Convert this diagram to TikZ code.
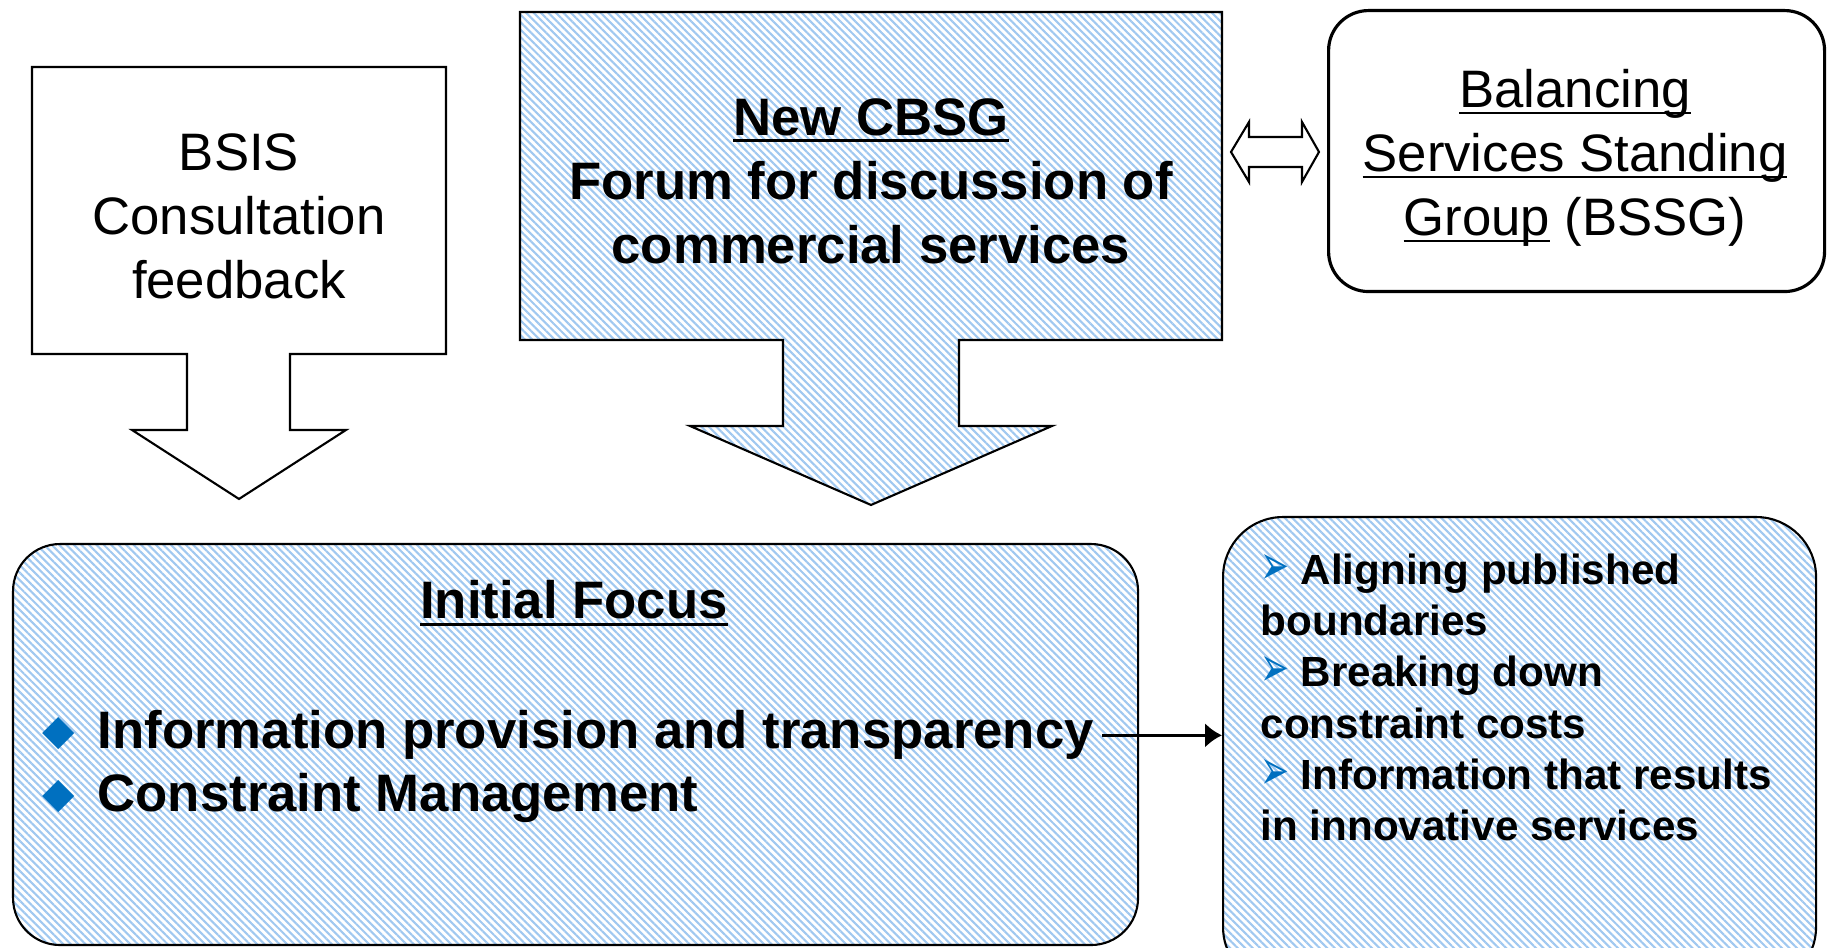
\documentclass[tikz,border=0pt]{standalone}
\usepackage{fontspec}
\usepackage{graphicx}
\setmainfont{Liberation Sans}
\newfontfamily\symfont{DejaVu Sans}
\usetikzlibrary{arrows,arrows.meta,shapes,positioning,patterns.meta}
\definecolor{hatchblue}{RGB}{160,200,240}
\definecolor{bulletblue}{RGB}{0,112,192}
\newsavebox\ulbox
\newcommand{\ulined}[1]{\sbox\ulbox{#1}\rlap{\rule[-0.13em]{\wd\ulbox}{0.05em}}\usebox\ulbox}
\newcommand{\diabullet}{\makebox[0.47cm][l]{\hspace*{-0.08cm}\raisebox{0.04cm}{\symfont\fontsize{12}{12}\selectfont\textcolor{bulletblue}{◆}}}}
\newcommand{\arrbullet}{\makebox[0.40cm][l]{\textcolor{bulletblue}{\resizebox{0.29cm}{0.30cm}{\symfont ➢}}}}

\begin{document}
\begin{tikzpicture}[
	outline/.style={draw=black, line width=0.6pt},
	hatched/.style={pattern={Lines[angle=-45,distance=1.5pt,line width=0.6pt]}, pattern color=hatchblue},
	plaintext/.style={font=\fontsize{15}{18.2}\selectfont, align=center, inner sep=0pt},
	boldtext/.style={font=\fontsize{15}{18.2}\selectfont\bfseries, align=center, inner sep=0pt},
	smalltext/.style={font=\fontsize{12}{14.6}\selectfont\bfseries, align=left, inner sep=0pt},
	roundbox/.style={outline, inner sep=0pt, anchor=north west},
	]
	\clip (0,0) rectangle (18.32,9.48);
	
	% BSIS consultation arrow
	\draw[outline, fill=white] (0.32,8.81) -- (4.46,8.81) -- (4.46,5.94) -- (2.90,5.94) -- (2.90,5.18) -- (3.46,5.18) -- (2.39,4.49) -- (1.32,5.18) -- (1.87,5.18) -- (1.87,5.94) -- (0.32,5.94) -- cycle;
	\node[plaintext] (bsis) at (2.39,7.32) {BSIS\\Consultation\\feedback};
	
	% New CBSG arrow
	\draw[outline, hatched] (5.20,9.36) -- (12.22,9.36) -- (12.22,6.08) -- (9.59,6.08) -- (9.59,5.22) -- (10.52,5.22) -- (8.71,4.43) -- (6.90,5.22) -- (7.83,5.22) -- (7.83,6.08) -- (5.20,6.08) -- cycle;
	\node[boldtext] (cbsg) at (8.71,7.67) {\ulined{New CBSG}\\Forum for discussion of\\commercial services};
	
	% link to BSSG
	\draw[outline, fill=white] (12.31,7.96) -- (12.49,8.26) -- (12.49,8.11) -- (13.02,8.11) -- (13.02,8.26) -- (13.19,7.96) -- (13.02,7.66) -- (13.02,7.81) -- (12.49,7.81) -- (12.49,7.66) -- cycle;
	
	% BSSG box
	\node[roundbox, line width=0.9pt, rounded corners=0.4cm, minimum width=4.96cm, minimum height=2.81cm] (bssg) at (13.27,9.39) {};
	\node[plaintext] (bssgtext) at (15.75,7.90) {\ulined{Balancing}\\\ulined{Services Standing}\\\ulined{Group} (BSSG)};
	
	% Initial focus box
	\node[roundbox, hatched, rounded corners=0.47cm, minimum width=11.25cm, minimum height=4.01cm] (focus) at (0.12,4.05) {};
	\node[boldtext] (focushead) at (5.74,3.45) {\ulined{Initial Focus}};
	\node[boldtext, anchor=base west] (infoline) at (0.50,1.99) {\diabullet Information provision and transparency};
	\node[boldtext, anchor=base west] (cmline) at (0.50,1.36) {\diabullet Constraint Management};
	
	% Results box
	\node[roundbox, hatched, rounded corners=0.6cm, minimum width=5.93cm, minimum height=4.7cm] (results) at (12.22,4.32) {};
	\node[smalltext, anchor=north west] (resultstext) at (12.60,3.95) {\arrbullet Aligning published\\boundaries\\\arrbullet Breaking down\\constraint costs\\\arrbullet Information that results\\in innovative services};
	
	\draw[line width=1pt, -{Latex[length=0.17cm,width=0.25cm]}] ([xshift=0.08cm]infoline.east) -- (infoline.east -| results.west);
\end{tikzpicture}
\end{document}
